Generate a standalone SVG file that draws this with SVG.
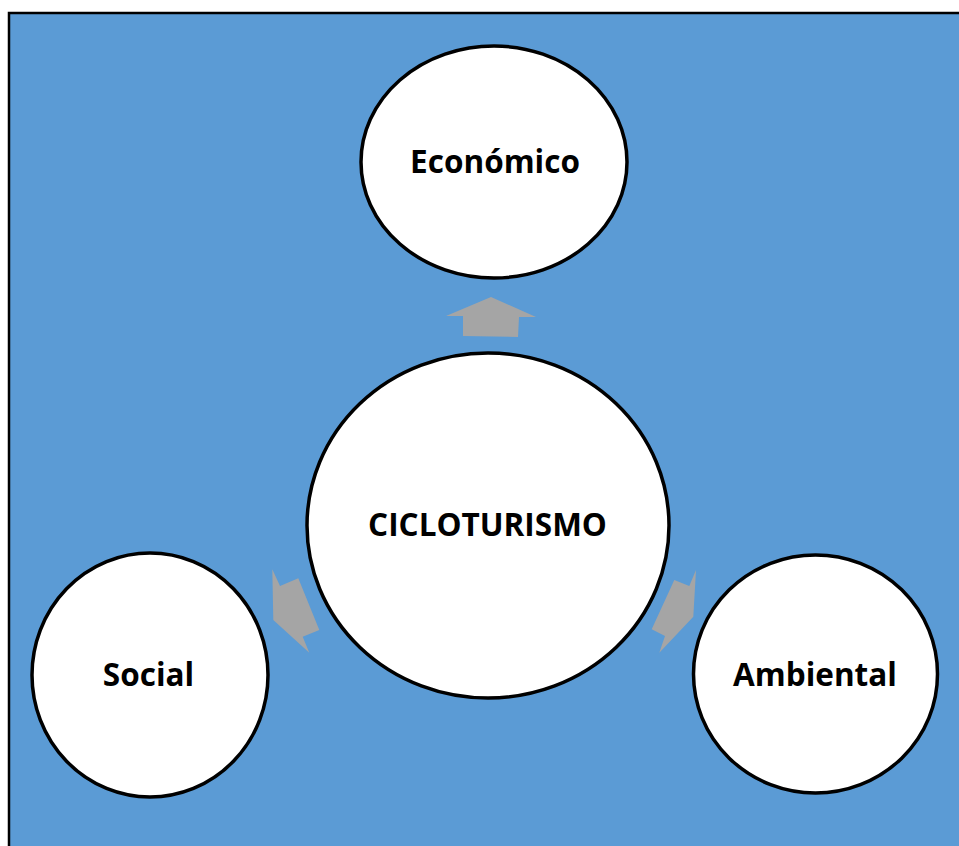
<svg xmlns="http://www.w3.org/2000/svg" width="959" height="846" viewBox="0 0 959 846">
<style>
.node ellipse{fill:#ffffff;stroke:#000000;stroke-width:3.5}
.node text{font-family:"Open Sans","Noto Sans","Liberation Sans",sans-serif;font-weight:bold;font-size:31.5px;fill:#000000;text-anchor:middle}
.arrow{fill:#A5A5A5;stroke:none}
</style>
<rect x="0" y="0" width="959" height="846" fill="#ffffff"/>
<rect id="background" x="9" y="13" width="960" height="845" fill="#5B9BD5" stroke="#000000" stroke-width="2.5"/>
<g id="connectors">
<polygon class="arrow" points="491,297 536,317 519,317 518,337 463,336 463,316 446,316"/>
<polygon class="arrow" points="272.3,569.3 280,586 298.3,578.3 319.3,630 302.7,636.7 309.3,652.7 273.3,620"/>
<polygon class="arrow" points="696,570 693.3,616.7 659.3,652.7 665,636 651.7,629.3 674.3,580 689.3,586"/>
</g>
<g id="node-economico" class="node">
<ellipse cx="494" cy="162" rx="133" ry="116"/>
<text x="495" y="173">Económico</text>
</g>
<g id="node-cicloturismo" class="node">
<ellipse cx="488" cy="525.5" rx="181" ry="172.5"/>
<text x="487.5" y="536">CICLOTURISMO</text>
</g>
<g id="node-social" class="node">
<ellipse cx="150" cy="675" rx="118" ry="122"/>
<text x="148.5" y="686">Social</text>
</g>
<g id="node-ambiental" class="node">
<ellipse cx="815.5" cy="674" rx="122" ry="119"/>
<text x="815" y="686">Ambiental</text>
</g>
</svg>
